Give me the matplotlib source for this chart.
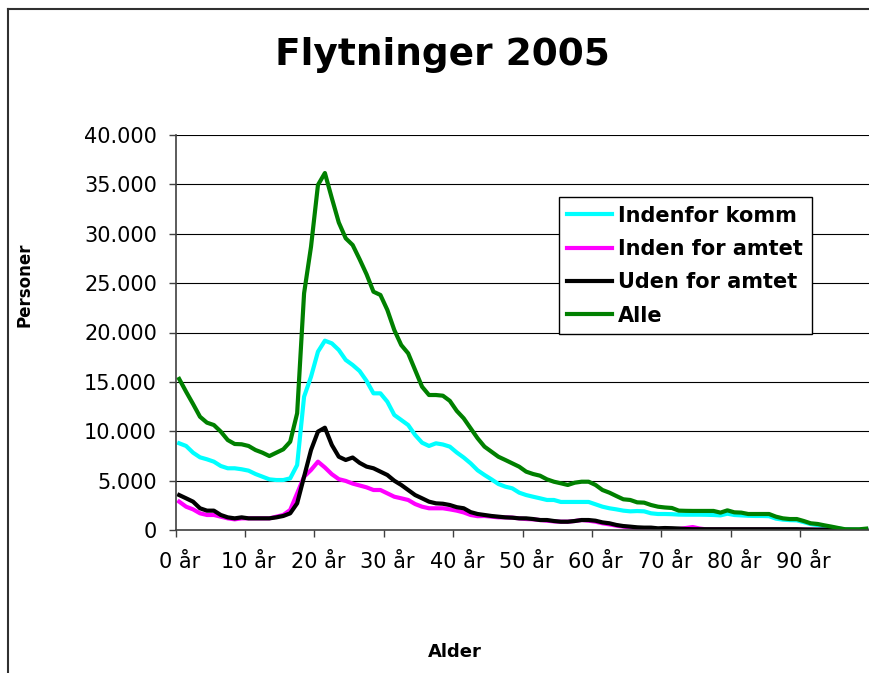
import matplotlib
matplotlib.use("Agg")
import matplotlib.pyplot as plt
from matplotlib.lines import Line2D
from matplotlib.ticker import FuncFormatter, FixedLocator


# alder 0..99 aar
ages = list(range(100))
age_labels = [f"{a} år" for a in range(0, 100, 10)]

indenfor_komm = [
    8780, 8510, 7830, 7360, 7160, 6920, 6480, 6250, 6250, 6150,
    6010, 5670, 5400, 5130, 5060, 5060, 5230, 6580, 13500, 15520,
    18060, 19170, 18900, 18230, 17220, 16710, 16100, 15100, 13840, 13840,
    12990, 11650, 11140, 10630, 9620, 8840, 8510, 8780, 8660, 8440,
    7850, 7340, 6750, 6050, 5570, 5130, 4660, 4390, 4220, 3780,
    3540, 3370, 3210, 3040, 3040, 2840, 2840, 2840, 2840, 2840,
    2600, 2360, 2200, 2090, 1960, 1890, 1920, 1890, 1690, 1620,
    1620, 1600, 1560, 1550, 1550, 1550, 1540, 1520, 1480, 1650,
    1520, 1480, 1440, 1420, 1420, 1400, 1150, 1050, 1000, 980,
    800, 600, 500, 380, 260, 150, 60, 40, 30, 60,
]
inden_for_amtet = [
    2870, 2360, 2090, 1690, 1520, 1520, 1350, 1180, 1080, 1180,
    1180, 1180, 1180, 1180, 1350, 1520, 2030, 3710, 5400, 6080,
    6920, 6330, 5650, 5150, 4970, 4700, 4510, 4320, 4050, 4050,
    3710, 3370, 3210, 3040, 2630, 2360, 2200, 2200, 2200, 2090,
    1960, 1780, 1520, 1400, 1420, 1350, 1280, 1280, 1250, 1180,
    1110, 1080, 1010, 940, 870, 840, 840, 910, 1010, 940,
    840, 680, 570, 440, 340, 270, 200, 140, 100, 70,
    70, 60, 100, 200, 300, 150, 60, 50, 50, 40,
    40, 40, 40, 40, 40, 40, 40, 30, 30, 30,
    30, 30, 20, 20, 20, 10, 10, 10, 0, 0,
]
uden_for_amtet = [
    3540, 3210, 2870, 2200, 1960, 1960, 1520, 1280, 1180, 1280,
    1180, 1180, 1180, 1180, 1280, 1420, 1690, 2700, 5400, 8100,
    9960, 10360, 8610, 7420, 7090, 7340, 6800, 6420, 6250, 5910,
    5570, 4990, 4560, 4050, 3540, 3210, 2870, 2700, 2660, 2530,
    2310, 2200, 1810, 1620, 1520, 1420, 1350, 1280, 1250, 1180,
    1180, 1110, 1010, 1010, 910, 840, 840, 910, 1010, 1010,
    940, 770, 680, 510, 400, 340, 270, 240, 240, 170,
    200, 180, 150, 100, 80, 80, 80, 80, 80, 80,
    80, 80, 80, 80, 80, 80, 80, 80, 80, 80,
    60, 50, 40, 30, 20, 10, 10, 0, 0, 0,
]
alle = [
    15300, 14000, 12760, 11470, 10870, 10630, 9960, 9110, 8710, 8680,
    8510, 8100, 7830, 7490, 7830, 8170, 8940, 11820, 23970, 28690,
    34940, 36150, 33600, 31140, 29540, 28860, 27420, 25900, 24130, 23800,
    22280, 20250, 18730, 17890, 16200, 14510, 13670, 13670, 13600, 13080,
    12060, 11310, 10300, 9290, 8440, 7930, 7420, 7090, 6750, 6410,
    5910, 5670, 5500, 5130, 4890, 4730, 4560, 4790, 4890, 4890,
    4560, 4050, 3780, 3440, 3110, 3040, 2800, 2770, 2530, 2360,
    2280, 2230, 1960, 1940, 1930, 1930, 1930, 1930, 1760, 1990,
    1790, 1760, 1620, 1620, 1620, 1620, 1350, 1180, 1110, 1110,
    910, 680, 610, 470, 340, 200, 70, 70, 70, 140,
]

series = [
    ("Indenfor komm", indenfor_komm, "#00FFFF"),
    ("Inden for amtet", inden_for_amtet, "#FF00FF"),
    ("Uden for amtet", uden_for_amtet, "#000000"),
    ("Alle", alle, "#008000"),
]

W, H = 870, 673
fig = plt.figure(figsize=(W / 100, H / 100), dpi=100)
ax = fig.add_axes([175.7 / W, (H - 530) / H, (W - 175.7) / W, 395 / H])

for label, values, color in series:
    ax.plot(ages, values, color=color, lw=3, label=label, solid_joinstyle="round")

ax.set_xlim(-0.5, 99.55)
ax.set_ylim(0, 40000)

# y-akse med punktum som tusindtalsseparator
ax.set_yticks(range(0, 40001, 5000))
ax.yaxis.set_major_formatter(FuncFormatter(lambda v, _: f"{int(v):,}".replace(",", ".")))
ax.tick_params(axis="y", length=5, width=1, color="#404040", pad=8.5, labelsize=15)
ax.grid(axis="y", color="black", lw=0.8)
ax.set_axisbelow(True)

# x-akse: streger mellem kategorierne, tekst midt paa
ax.xaxis.set_major_locator(FixedLocator([b - 0.5 for b in range(0, 100, 10)]))
ax.xaxis.set_major_formatter(FuncFormatter(lambda v, _: ""))
ax.xaxis.set_minor_locator(FixedLocator(list(range(0, 100, 10))))
ax.set_xticklabels(age_labels, minor=True)
ax.tick_params(axis="x", which="major", length=5, width=1, color="#404040")
ax.tick_params(axis="x", which="minor", length=0, pad=16, labelsize=15)

for side in ("top", "right"):
    ax.spines[side].set_visible(False)
for side in ("left", "bottom"):
    ax.spines[side].set_color("#404040")
    ax.spines[side].set_linewidth(1.2)

leg = ax.legend(
    loc="upper left",
    bbox_to_anchor=(559 / W, 1 - 197.3 / H),
    bbox_transform=fig.transFigure,
    borderaxespad=0,
    prop={"weight": "bold", "size": 15},
    handlelength=2.15,
    handletextpad=0.3,
    borderpad=0.4,
    labelspacing=0.64,
    fancybox=False,
    framealpha=1,
    edgecolor="black",
)
leg.get_frame().set_linewidth(1)
for line in leg.get_lines():
    line.set_linewidth(3)

fig.text(442.5 / W, 1 - 65 / H, "Flytninger 2005", ha="center", va="baseline",
         fontsize=27, fontweight="bold")
fig.text(25 / W, 1 - 285 / H, "Personer", ha="center", va="center", rotation=90,
         fontsize=12, fontweight="bold")
fig.text(455 / W, 1 - 652 / H, "Alder", ha="center", va="center",
         fontsize=13, fontweight="bold")

# ydre ramme: kun venstre kant og top er med i billedet
fig.add_artist(Line2D([8 / W, 8 / W], [0, 1 - 8.5 / H],
                      transform=fig.transFigure, color="#303030", lw=1.5))
fig.add_artist(Line2D([8 / W, 0.999], [1 - 8.5 / H, 1 - 8.5 / H],
                      transform=fig.transFigure, color="#303030", lw=1.5))

fig.savefig("out.png", dpi=100)
